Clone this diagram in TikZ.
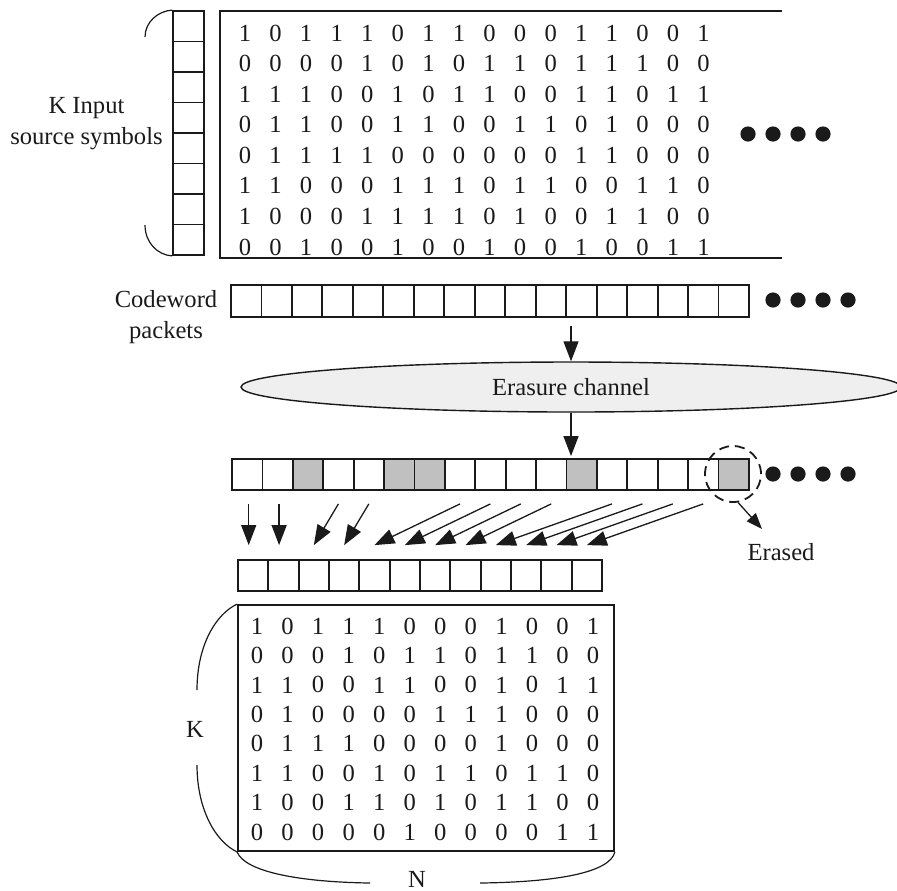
\documentclass[tikz,border=0pt]{standalone}
\usepackage{fontspec}
\setmainfont{Liberation Serif}
\usepackage{tikz}
\usetikzlibrary{arrows.meta,calc,shapes.geometric}
\definecolor{Ink}{HTML}{1A1A1A}
\definecolor{Lost}{HTML}{C0C0C0}
\definecolor{Chan}{HTML}{EFEFEF}
\tikzset{
  every node/.style={font=\fontsize{12.3}{15.5}\selectfont,text=Ink},
  cell/.style={draw=Ink,line width=.9pt,minimum width=15.2pt,minimum height=15.5pt,inner sep=0pt,fill=white},
  lost/.style={cell,fill=Lost},
  bit/.style={inner sep=0pt},
  frame/.style={draw=Ink,line width=.9pt,inner sep=0pt},
  flow/.style={-{Triangle[length=10pt,width=7.5pt]},line width=.65pt,draw=Ink},
  brace/.style={line width=.6pt,draw=Ink},
  dotmark/.style={circle,fill=Ink,inner sep=0pt,minimum size=7.6pt},
  channel/.style={ellipse,draw=Ink,line width=.7pt,fill=Chan,minimum width=330pt,minimum height=25pt,inner sep=0pt},
  ring/.style={circle,draw=Ink,line width=.9pt,dash pattern=on 5pt off 3pt,minimum size=28pt,inner sep=0pt}
}

\begin{document}
\begin{tikzpicture}[x=.5pt,y=-.5pt]
    \useasboundingbox (0,0) rectangle (897,890);
    \foreach \i in {1,...,8}
      \node[cell,minimum width=15.5pt,minimum height=15.25pt] (src\i) at (188.5,{11+30.5*(\i-.5)}) {};
    \draw[brace] (src1.north west) .. controls (158,11) and (145,22) .. (145,37);
    \draw[brace] (145,225) .. controls (145,242) and (157,255) .. (src8.south west);
    \node[align=center] (srclbl) at (86.5,124) {K Input\\source symbols};
    \draw[frame] (782,11) -- (220,11) -- (220,258) -- (782,258);
    \foreach \row [count=\i] in {
      {1,0,1,1,1,0,1,1,0,0,0,1,1,0,0,1},
      {0,0,0,0,1,0,1,0,1,1,0,1,1,1,0,0},
      {1,1,1,0,0,1,0,1,1,0,0,1,1,0,1,1},
      {0,1,1,0,0,1,1,0,0,1,1,0,1,0,0,0},
      {0,1,1,1,1,0,0,0,0,0,0,1,1,0,0,0},
      {1,1,0,0,0,1,1,1,0,1,1,0,0,1,1,0},
      {1,0,0,0,1,1,1,1,0,1,0,0,1,1,0,0},
      {0,0,1,0,0,1,0,0,1,0,0,1,0,0,1,1}}
      \foreach \b [count=\j] in \row
        \node[bit] (u\i-\j) at ({245+30.57*(\j-1)},{33+30.57*(\i-1)}) {\b};
    \foreach \k in {0,...,3}
      \node[dotmark] (udot\k) at ({748+25*\k},134) {};

    \node[align=center] (cwlbl) at (166,317) {Codeword\\packets};
    \foreach \i in {0,...,16}
      \node[cell,minimum height=16pt] (cw\i) at ({231+30.47*(\i+.5)},301) {};
    \foreach \k in {0,...,3}
      \node[dotmark] (cwdot\k) at ({773+25*\k},300) {};

    \node[channel] (channel) at (571,387) {Erasure channel};
    \draw[flow] ($(channel.north |- cw0.south)+(0,8)$) -- (channel.north);

    \foreach \i/\s in {0/cell,1/cell,2/lost,3/cell,4/cell,5/lost,6/lost,7/cell,8/cell,
                       9/cell,10/cell,11/lost,12/cell,13/cell,14/cell,15/cell,16/lost}
      \node[\s] (rx\i) at ({232+30.4*(\i+.5)},474.5) {};
    \draw[flow] (channel.south) -- ($(channel.south |- rx0.north)+(0,-2)$);
    \node[ring] (erasedring) at (733,474) {};
    \foreach \k in {0,...,3}
      \node[dotmark] (rxdot\k) at ({773+25*\k},474) {};
    \coordinate (erasedtip) at (762,529);
    \node (erasedlbl) at (781,552) {Erased};
    \draw[flow,-{Triangle[length=8pt,width=6pt]}] (erasedring.-80) -- (erasedtip);

    \foreach \i in {0,...,11}
      \node[cell] (tg\i) at ({238+30.33*(\i+.5)},575.5) {};
    \foreach \s [count=\k from 0] in {0,1}
      \draw[flow] ($(rx\s.south)+(1.5,13)$) -- ($(rx\s.south |- tg\k.north)+(1.5,-14)$);
    \foreach \s [count=\k from 2] in {3,4,7,8,9,10,12,13,14,15}
      \draw[flow] ($(rx\s.south)+(0,13)$) -- ($(tg\k.north)+(0,-14)$);

    \node[frame,minimum width=188pt,minimum height=123pt] (kn) at (426,728) {};
    \foreach \row [count=\i] in {
      {1,0,1,1,1,0,0,0,1,0,0,1},
      {0,0,0,1,0,1,1,0,1,1,0,0},
      {1,1,0,0,1,1,0,0,1,0,1,1},
      {0,1,0,0,0,0,1,1,1,0,0,0},
      {0,1,1,1,0,0,0,0,1,0,0,0},
      {1,1,0,0,1,0,1,1,0,1,1,0},
      {1,0,0,1,1,0,1,0,1,1,0,0},
      {0,0,0,0,0,1,0,0,0,0,1,1}}
      \foreach \b [count=\j] in \row
        \node[bit] (g\i-\j) at ({257+30.55*(\j-1)},{626+29.45*(\i-1)}) {\b};
    \draw[brace] (kn.north west) .. controls (216,614) and (197,645) .. (197,690);
    \draw[brace] (197,765) .. controls (197,810) and (216,842) .. (kn.south west);
    \node (klbl) at (195,729) {K};
    \draw[brace] (kn.south west) .. controls (245,872) and (300,882) .. (370,883);
    \draw[brace] (480,883) .. controls (560,882) and (610,872) .. (kn.south east);
    \node (nlbl) at (417,879) {N};
  \end{tikzpicture}
\end{document}
